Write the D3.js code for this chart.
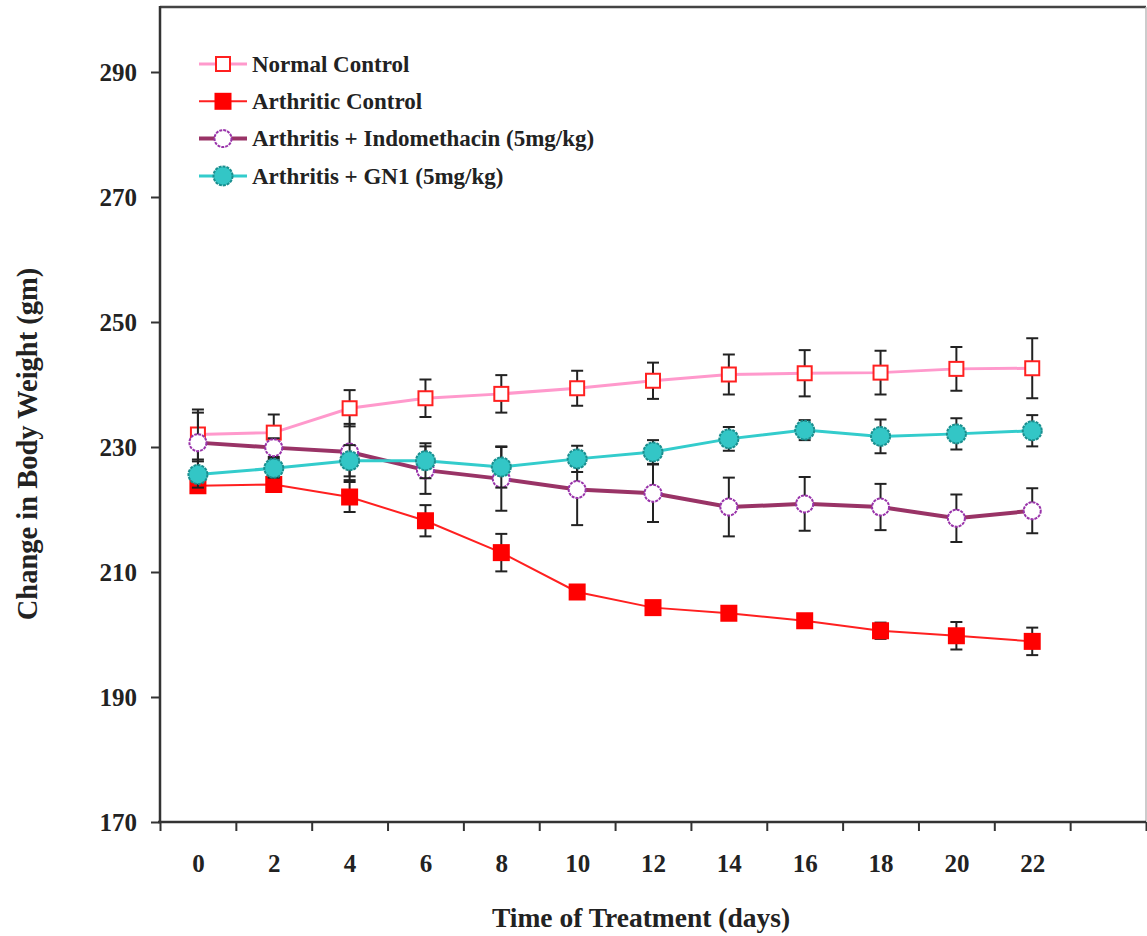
<!DOCTYPE html>
<html>
<head>
<meta charset="utf-8">
<script src="https://cdn.jsdelivr.net/npm/d3@7"></script>
<style>
  body { margin: 0; background: #fff; }
  text { font-family: "Liberation Serif", "Times New Roman", serif; font-weight: bold; fill: #222; }
</style>
</head>
<body>
<div id="chart"></div>
<script>
//data
const days = [0, 2, 4, 6, 8, 10, 12, 14, 16, 18, 20, 22];
const yTicks = [170, 190, 210, 230, 250, 270, 290];

const normalControl = [232.0, 232.3, 236.2, 237.8, 238.5, 239.4, 240.6, 241.6, 241.8, 241.9, 242.5, 242.6];
const normalErr = [4.0, 2.9, 2.9, 3.0, 3.0, 2.8, 2.9, 3.2, 3.7, 3.5, 3.5, 4.8];

const arthriticControl = [223.8, 224.0, 222.0, 218.2, 213.1, 206.8, 204.3, 203.4, 202.2, 200.6, 199.8, 198.9];
const arthriticErr = [1.0, 1.0, 2.4, 2.5, 3.0, 1.0, 0.8, 0.8, 0.8, 1.3, 2.2, 2.2];

const indomethacin = [230.7, 229.9, 229.2, 226.3, 224.9, 223.2, 222.6, 220.4, 220.9, 220.4, 218.6, 219.8];
const indomethacinErr = [4.8, 1.5, 4.5, 3.8, 5.1, 5.7, 4.6, 4.7, 4.3, 3.7, 3.8, 3.6];

const gn1 = [225.6, 226.6, 227.8, 227.8, 226.8, 228.1, 229.2, 231.3, 232.7, 231.7, 232.1, 232.6];
const gn1Err = [2.1, 1.5, 2.5, 2.8, 3.3, 2.1, 1.9, 1.9, 1.6, 2.7, 2.5, 2.5];

const seriesNames = [
  "Normal Control",
  "Arthritic Control",
  "Arthritis + Indomethacin (5mg/kg)",
  "Arthritis + GN1 (5mg/kg)",
];

const width = 1147;
const height = 936;

const series = [
  { name: seriesNames[0], values: normalControl, err: normalErr,
    line: "#ff99cc", lineWidth: 3, marker: "square", fill: "#fff", stroke: "#ff2020", size: 14, dash: null },
  { name: seriesNames[1], values: arthriticControl, err: arthriticErr,
    line: "#ff2020", lineWidth: 2, marker: "square", fill: "#ff0000", stroke: "#ff0000", size: 15, dash: null },
  { name: seriesNames[2], values: indomethacin, err: indomethacinErr,
    line: "#993366", lineWidth: 4, marker: "circle", fill: "#fff", stroke: "#9933aa", size: 8.5, dash: "3,1" },
  { name: seriesNames[3], values: gn1, err: gn1Err,
    line: "#33cccc", lineWidth: 3, marker: "circle", fill: "#33c6c6", stroke: "#1a8f8f", size: 9.5, dash: "3,1" },
];

const svg = d3
  .select("#chart")
  .append("svg")
  .attr("width", width)
  .attr("height", height);

//scales - x is category-like, one slot per day pair, with one spare slot at the end
const x = d3.scaleLinear().domain([-1, 25]).range([160, 1146]);
const y = d3.scaleLinear().domain([170, 290]).range([822, 72]);

//plot frame
svg.append("line")
  .attr("x1", 160).attr("x2", 1146).attr("y1", 7).attr("y2", 7)
  .attr("stroke", "#444").attr("stroke-width", 2.5);
svg.append("line")
  .attr("x1", 1146).attr("x2", 1146).attr("y1", 7).attr("y2", 822)
  .attr("stroke", "#bbb").attr("stroke-width", 1.5);
svg.append("line")
  .attr("x1", 160).attr("x2", 160).attr("y1", 6).attr("y2", 822)
  .attr("stroke", "#333").attr("stroke-width", 2.5);
svg.append("line")
  .attr("x1", 158).attr("x2", 1146).attr("y1", 822).attr("y2", 822)
  .attr("stroke", "#333").attr("stroke-width", 2.5);

//y axis
const yAxis = svg.append("g")
  .attr("transform", "translate(160,0)")
  .call(d3.axisLeft(y).tickValues(yTicks).tickSize(9).tickPadding(14).tickSizeOuter(0));
yAxis.select(".domain").remove();
yAxis.selectAll(".tick line").attr("stroke", "#333").attr("stroke-width", 2);
yAxis.selectAll(".tick text").style("font-size", "25px").attr("dy", "0.34em");

//x axis tick marks sit between the labels
const oddTicks = d3.range(-1, 26, 2);
const xTickAxis = svg.append("g")
  .attr("transform", "translate(0,822)")
  .call(d3.axisBottom(x).tickValues(oddTicks).tickSize(9).tickFormat("").tickSizeOuter(0));
xTickAxis.select(".domain").remove();
xTickAxis.selectAll(".tick line").attr("stroke", "#333").attr("stroke-width", 2);

const xLabelAxis = svg.append("g")
  .attr("transform", "translate(0,822)")
  .call(d3.axisBottom(x).tickValues(days).tickSize(0).tickPadding(32).tickSizeOuter(0));
xLabelAxis.select(".domain").remove();
xLabelAxis.selectAll(".tick text").style("font-size", "25px");

//axis titles
svg.append("text")
  .attr("x", 641)
  .attr("y", 927)
  .attr("text-anchor", "middle")
  .style("font-size", "27.5px")
  .text("Time of Treatment (days)");

svg.append("text")
  .attr("transform", "translate(37,444)rotate(-90)")
  .attr("text-anchor", "middle")
  .style("font-size", "28.5px")
  .text("Change in Body Weight (gm)");

//draws one marker at (cx, cy)
function drawMarker(g, s, cx, cy) {
  if (s.marker === "square") {
    g.append("rect")
      .attr("x", cx - s.size / 2)
      .attr("y", cy - s.size / 2)
      .attr("width", s.size)
      .attr("height", s.size)
      .attr("fill", s.fill)
      .attr("stroke", s.stroke)
      .attr("stroke-width", 2);
  } else {
    g.append("circle")
      .attr("cx", cx)
      .attr("cy", cy)
      .attr("r", s.size)
      .attr("fill", s.fill)
      .attr("stroke", s.stroke)
      .attr("stroke-width", 2)
      .attr("stroke-dasharray", s.dash);
  }
}

const line = d3.line()
  .x((d) => x(d.day))
  .y((d) => y(d.value));

series.forEach((s) => {
  const pts = days.map((d, i) => ({ day: d, value: s.values[i], err: s.err[i] }));
  const g = svg.append("g");

  //error bars
  const eb = g.selectAll(".eb")
    .data(pts)
    .enter()
    .append("g");
  eb.append("line")
    .attr("x1", (d) => x(d.day)).attr("x2", (d) => x(d.day))
    .attr("y1", (d) => y(d.value + d.err)).attr("y2", (d) => y(d.value - d.err))
    .attr("stroke", "#222").attr("stroke-width", 2);
  [1, -1].forEach((sign) => {
    eb.append("line")
      .attr("x1", (d) => x(d.day) - 6).attr("x2", (d) => x(d.day) + 6)
      .attr("y1", (d) => y(d.value + sign * d.err)).attr("y2", (d) => y(d.value + sign * d.err))
      .attr("stroke", "#222").attr("stroke-width", 2);
  });

  g.append("path")
    .datum(pts)
    .attr("fill", "none")
    .attr("stroke", s.line)
    .attr("stroke-width", s.lineWidth)
    .attr("d", line);

  pts.forEach((d) => drawMarker(g, s, x(d.day), y(d.value)));
});

//legend
const legend = svg.append("g").attr("transform", "translate(199,64)");
series.forEach((s, i) => {
  const row = legend.append("g").attr("transform", `translate(0,${i * 37.3})`);
  row.append("line")
    .attr("x1", 0).attr("x2", 48)
    .attr("stroke", s.line)
    .attr("stroke-width", s.lineWidth);
  drawMarker(row, s, 24, 0);
  row.append("text")
    .attr("x", 53)
    .attr("dy", "0.34em")
    .style("font-size", "23px")
    .text(s.name);
});
</script>
</body>
</html>
